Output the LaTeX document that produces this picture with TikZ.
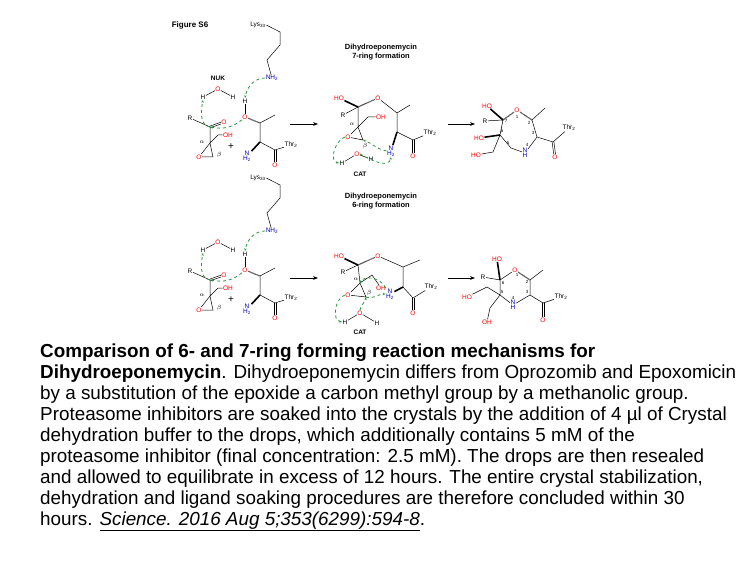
\documentclass[tikz,border=0pt]{standalone}
\usepackage{fontspec}
\setmainfont{Liberation Sans}
\setsansfont{Liberation Sans}
\usetikzlibrary{arrows.meta}
\definecolor{gr}{RGB}{40,150,60}
\tikzset{
 atm/.style={font=\fontsize{6.5}{7}\selectfont, inner sep=0.4pt},
 ox/.style={atm, text=red},
 nn/.style={atm, text=blue!75!black, align=center},
 num/.style={font=\fontsize{4.5}{5}\selectfont, inner sep=0pt},
 ga/.style={gr, dashed, line width=0.8pt, -{Stealth[length=3pt]}},
 bd/.style={line width=0.5pt},
 wd/.style={line width=1.6pt},
 hs/.style={line width=1.2pt, dash pattern=on 0.4pt off 0.6pt},
 dv1/.style={line width=0.5pt, transform canvas={xshift=-0.9pt}},
 dv2/.style={line width=0.5pt, transform canvas={xshift=0.9pt}},
 dh1/.style={line width=0.5pt, transform canvas={yshift=-0.9pt}},
 dh2/.style={line width=0.5pt, transform canvas={yshift=0.9pt}},
 ttl/.style={font=\bfseries\fontsize{7.5}{8.5}\selectfont, align=center},
 txt/.style={anchor=base west, inner sep=0pt, font=\fontsize{18.85}{21}\selectfont},
 rx/.style={-{Stealth[length=5pt]}, line width=0.6pt},
 pics/reactant/.style={code={
  \node[atm] (-lys) at (258,25) {Lys\textsubscript{33}};
  \coordinate (-l2) at (280,32); \coordinate (-l3) at (280,45); \coordinate (-l4) at (267,60);
  \node[nn] (-n) at (272,78) {NH\textsubscript{2}};
  \draw[bd] (-lys.east) -- (-l2) -- (-l3) -- (-l4) -- (-n);
  \node[atm] (-wh1) at (203,97) {H}; \node[ox] (-wo) at (218,89) {O}; \node[atm] (-wh2) at (233,97) {H};
  \draw[bd] (-wh1) -- (-wo) -- (-wh2);
  \node[atm] (-th) at (245,101) {H}; \node[ox] (-to) at (245,117) {O};
  \coordinate (-tb) at (260,123); \coordinate (-tm) at (275,115); \coordinate (-ta) at (260,142); \coordinate (-tc) at (275,150);
  \node[ox] (-tco) at (275,165) {O}; \node[atm] (-thr) at (291,145) {Thr\textsubscript{2}};
  \node[nn] (-tn) at (247,156) {N\\[-2pt]H\textsubscript{2}};
  \draw[bd] (-th) -- (-to); \draw[hs] (-to) -- (-tb); \draw[bd] (-tb) -- (-tm) (-tb) -- (-ta) (-ta) -- (-tc) -- (-thr);
  \draw[wd] (-ta) -- (-tn); \draw[dv1] (-tc) -- (-tco); \draw[dv2] (-tc) -- (-tco);
  \node[atm] (-r) at (190,118) {R}; \coordinate (-kc) at (210,127); \node[ox] (-ko) at (224,122) {O};
  \coordinate (-ca) at (210,143); \node[atm] (-al) at (202,142) {$\alpha$};
  \coordinate (-ch) at (218,135); \node[ox] (-oh) at (228,135) {OH};
  \node[ox] (-eo) at (199,157) {O}; \coordinate (-cb) at (213,157); \node[atm] (-be) at (219,155) {$\beta$};
  \draw[bd] (-r) -- (-kc) -- (-ca) -- (-ch) -- (-oh) (-ca) -- (-eo) -- (-cb) -- (-ca);
  \draw[dh1] (-kc) -- (-ko); \draw[dh2] (-kc) -- (-ko);
  \node[font=\fontsize{10}{10}\selectfont] (-plus) at (231,147) {+};
  \draw[ga] (-n.west) to[out=180,in=80] (-th.north);
  \draw[ga] (-kc) to[out=170,in=-100] (-wh1.south);
  \draw[ga] (-to.south west) to[out=220,in=-10] (-kc);
 }}
}
\begin{document}
\begin{tikzpicture}[x=1pt,y=-1pt]
\useasboundingbox (0,0) rectangle (756,567);
\node[font=\bfseries\fontsize{8}{9}\selectfont] (fig) at (190,25) {Figure S6};
\node[atm] (nuk) at (218,78) {\textbf{NUK}};
\pic (ra) at (0,0) {reactant};
\pic (rb) at (0,153) {reactant};
% titles
\node[ttl] (t1) at (381,52) {Dihydroeponemycin\\7-ring formation};
\node[ttl] (t2) at (381,201) {Dihydroeponemycin\\6-ring formation};
% arrows
\coordinate (a1s) at (290,124); \coordinate (a1e) at (318,124);
\coordinate (a2s) at (448,124); \coordinate (a2e) at (475,124);
\coordinate (a3s) at (290,278); \coordinate (a3e) at (318,278);
\coordinate (a4s) at (448,278); \coordinate (a4e) at (475,278);
\draw[rx] (a1s) -- (a1e); \draw[rx] (a2s) -- (a2e); \draw[rx] (a3s) -- (a3e); \draw[rx] (a4s) -- (a4e);
% intermediate top
\node[ox] (aho) at (339,98) {HO}; \coordinate (ac) at (358,107); \node[ox] (ao) at (378,98) {O};
\node[atm] (ar) at (343,115) {R}; \coordinate (aca) at (358,127); \node[atm] (aal) at (352,124) {$\alpha$};
\coordinate (ach) at (368,117); \node[ox] (aoh) at (381,117) {OH};
\node[ox] (aeo) at (348,137) {O}; \coordinate (acb) at (363,140); \node[atm] (abe) at (365,146) {$\beta$};
\coordinate (atb) at (397,113); \coordinate (atm) at (410,105); \coordinate (ata) at (397,132); \coordinate (atc) at (413,140);
\node[nn] (an) at (391,151) {N\\[-2pt]H\textsubscript{2}}; \node[ox] (atco) at (413,156) {O}; \node[atm] (athr) at (430,133) {Thr\textsubscript{2}};
\draw[wd] (ac) -- (aho); \draw[hs] (ac) -- (ao); \draw[bd] (ac) -- (ar) (ac) -- (aca) -- (ach) -- (aoh) (aca) -- (aeo) -- (acb) -- (aca);
\draw[bd] (ao) -- (atb) -- (atm) (atb) -- (ata) -- (atc) -- (athr); \draw[wd] (ata) -- (an);
\draw[dv1] (atc) -- (atco); \draw[dv2] (atc) -- (atco);
\node[atm] (awh1) at (342,163) {H}; \node[ox] (awo) at (357,154) {O}; \node[atm] (awh2) at (371,159) {H};
\draw[bd] (awh1) -- (awo) -- (awh2);
\node[atm] (acat) at (360,174) {\textbf{CAT}};
\draw[ga] (aeo.west) to[out=200,in=170] (awh1.west);
\draw[ga] (awo.east) to[out=-30,in=-100] (an.south);
\draw[ga] (an.west) to[out=170,in=-20] (acb);
% product top (7-ring)
\node[ox] (pho) at (487,106) {HO}; \coordinate (p7) at (503,120); \node[ox] (po1) at (517,110) {O};
\coordinate (p2) at (532,120); \coordinate (pm) at (545,108); \coordinate (p3) at (537,137);
\node[nn] (pn) at (525,153) {N\\[-2pt]H}; \coordinate (p5) at (511,148); \coordinate (p6) at (500,135);
\node[atm] (pr) at (485,121) {R}; \node[ox] (pho2) at (479,138) {HO}; \coordinate (pch) at (493,152); \node[ox] (pho3) at (476,155) {HO};
\coordinate (pc) at (553,142); \node[ox] (pco) at (555,157) {O}; \node[atm] (pthr) at (569,128) {Thr\textsubscript{2}};
\draw[wd] (p7) -- (pho); \draw[hs] (p7) -- (po1); \draw[hs] (p2) -- (po1);
\draw[bd] (p7) -- (pr) (p7) -- (p6) -- (p5) -- (pn) -- (p3) -- (p2) -- (pm) (p6) -- (pch) -- (pho3) (p3) -- (pc) -- (pthr);
\draw[wd] (p6) -- (pho2); \draw[dv1] (pc) -- (pco); \draw[dv2] (pc) -- (pco);
\node[num] (pn1) at (517,117) {1}; \node[num] (pn2) at (529,123) {2}; \node[num] (pn3) at (533,133) {3};
\node[num] (pn4) at (527,145) {4}; \node[num] (pn5) at (508,143) {5}; \node[num] (pn6) at (502,131) {6}; \node[num] (pn7) at (506,121) {7};
% intermediate bottom
\node[ox] (bho) at (339,256) {HO}; \coordinate (bc) at (358,265); \node[ox] (bo) at (378,256) {O};
\node[atm] (br) at (343,272) {R}; \coordinate (bca) at (360,283); \node[atm] (bal) at (356,279) {$\alpha$};
\coordinate (bch) at (372,275); \node[ox] (boh) at (381,288) {OH};
\node[ox] (beo) at (348,295) {O}; \coordinate (bcb) at (366,297); \node[atm] (bbe) at (369,293) {$\beta$};
\coordinate (btb) at (403,267); \coordinate (btm) at (420,260); \coordinate (bta) at (403,287); \coordinate (btc) at (413,298);
\node[nn] (bn) at (390,294) {N\\[-2pt]H\textsubscript{2}}; \node[ox] (btco) at (413,313) {O}; \node[atm] (bthr) at (431,287) {Thr\textsubscript{2}};
\draw[wd] (bc) -- (bho); \draw[hs] (bc) -- (bo); \draw[bd] (bc) -- (br) (bc) -- (bca) -- (bch) -- (boh) (bca) -- (beo) -- (bcb) -- (bca);
\draw[bd] (bo) -- (btb) -- (btm) (btb) -- (bta) -- (btc) -- (bthr); \draw[wd] (bta) -- (bn);
\draw[dv1] (btc) -- (btco); \draw[dv2] (btc) -- (btco);
\node[atm] (bwh1) at (345,322) {H}; \node[ox] (bwo) at (360,313) {O}; \node[atm] (bwh2) at (377,323) {H};
\draw[bd] (bwh1) -- (bwo) -- (bwh2);
\node[atm] (bcat) at (360,332) {\textbf{CAT}};
\draw[ga] (beo.west) to[out=200,in=170] (bwh1.west);
\draw[ga] (bwo.north) to[out=80,in=-100] (bcb);
\draw[ga] (bn.north west) to[out=110,in=60] (bca);
\draw[ga] (bcb) to[out=-20,in=180] (bn.west);
% product bottom (6-ring)
\node[ox] (qho) at (497,259) {HO}; \coordinate (q6) at (500,280); \node[ox] (qo1) at (515,270) {O};
\coordinate (q2) at (530,280); \coordinate (qm) at (543,270); \coordinate (q3) at (530,295);
\node[nn] (qn) at (513,305) {N\\[-2pt]H}; \coordinate (q5) at (500,295);
\node[atm] (qr) at (483,277) {R}; \coordinate (qch) at (487,287); \node[ox] (qho2) at (467,297) {HO};
\coordinate (qch2) at (490,308); \node[ox] (qoh) at (487,322) {OH};
\coordinate (qc) at (543,303); \node[ox] (qco) at (543,320) {O}; \node[atm] (qthr) at (561,297) {Thr\textsubscript{2}};
\draw[wd] (q6) -- (qho); \draw[hs] (q2) -- (qo1);
\draw[bd] (q6) -- (qo1) (q6) -- (qr) (q6) -- (q5) -- (qn) -- (q3) -- (q2) -- (qm) (q5) -- (qch) -- (qho2) (q5) -- (qch2) -- (qoh) (q3) -- (qc) -- (qthr);
\draw[dv1] (qc) -- (qco); \draw[dv2] (qc) -- (qco);
\node[num] (qn1) at (517,275) {1}; \node[num] (qn2) at (527,282) {2}; \node[num] (qn3) at (527,292) {3};
\node[num] (qn4) at (513,298) {4}; \node[num] (qn5) at (502,292) {5}; \node[num] (qn6) at (503,283) {6};
% caption
\node[txt] (l1) at (40,357) {\textbf{Comparison of 6- and 7-ring forming reaction mechanisms for}};
\node[txt] (l2) at (40,378) {\textbf{Dihydroeponemycin}. Dihydroeponemycin differs from Oprozomib and Epoxomicin};
\node[txt] (l3) at (40,399) {by a substitution of the epoxide a carbon methyl group by a methanolic group.};
\node[txt] (l4) at (40,420) {Proteasome inhibitors are soaked into the crystals by the addition of 4 µl of Crystal};
\node[txt] (l5) at (40,441) {dehydration buffer to the drops, which additionally contains 5 mM of the};
\node[txt] (l6) at (40,462) {proteasome inhibitor (final concentration: 2.5 mM). The drops are then resealed};
\node[txt] (l7) at (40,483) {and allowed to equilibrate in excess of 12 hours. The entire crystal stabilization,};
\node[txt] (l8) at (40,504) {dehydration and ligand soaking procedures are therefore concluded within 30};
\node[txt] (l9) at (40,525) {hours. \underline{\textit{Science. 2016 Aug 5;353(6299):594-8}}.};
\end{tikzpicture}
\end{document}
